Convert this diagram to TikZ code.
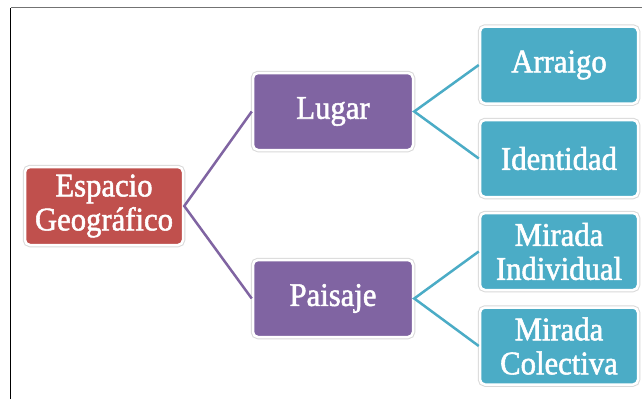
\documentclass[tikz,border=0pt]{standalone}
\usepackage{fontspec}
\setmainfont{Liberation Serif}
\newfontfamily\boxfont[FakeStretch=0.93,FakeBold=1.6]{Liberation Serif}
\definecolor{cred}{HTML}{C0504D}
\definecolor{cpurple}{HTML}{8064A2}
\definecolor{cteal}{HTML}{4BACC6}
\begin{document}
\begin{tikzpicture}[x=1pt,y=-1pt,
  boxbase/.style={rectangle, rounded corners=5pt, draw=white, line width=2.5pt,
    preaction={draw=black!15, line width=4.5pt},
    text=white, align=center, inner sep=0pt,
    font=\boxfont\fontsize{33}{34}\selectfont},
  redbox/.style={boxbase, fill=cred, minimum width=158pt, minimum height=78pt},
  purplebox/.style={boxbase, fill=cpurple, minimum width=160pt, minimum height=77pt},
  tealbox/.style={boxbase, fill=cteal, minimum width=158pt, minimum height=77pt},
  plink/.style={draw=cpurple, line width=2.5pt},
  tlink/.style={draw=cteal, line width=2.5pt}]
\useasboundingbox (0,0) rectangle (642,399);
\fill[white] (0,0) rectangle (642,399);
\coordinate (fa) at (10.5,399);
\coordinate (fb) at (10.5,7.5);
\coordinate (fc) at (642,7.5);
\draw[black, line width=1.5pt] (fa) -- (fb);
\draw[black!55, line width=1.5pt] (fb) -- (fc);

\node[redbox] (esp) at (104,206) {Espacio\\Geográfico};
\node[purplebox] (lug) at (333,111.5) {Lugar};
\node[purplebox] (pai) at (333,298.5) {Paisaje};
\node[tealbox] (arr) at (559,65) {Arraigo};
\node[tealbox] (ide) at (559,158.5) {Identidad};
\node[tealbox] (mi) at (559,251.5) {Mirada\\Individual};
\node[tealbox] (mc) at (559,346) {Mirada\\Colectiva};

\draw[plink] (lug.west) -- (esp.east) -- (pai.west);
\draw[tlink] (arr.west) -- (lug.east) -- (ide.west);
\draw[tlink] (mi.west) -- (pai.east) -- (mc.west);
\end{tikzpicture}
\end{document}
